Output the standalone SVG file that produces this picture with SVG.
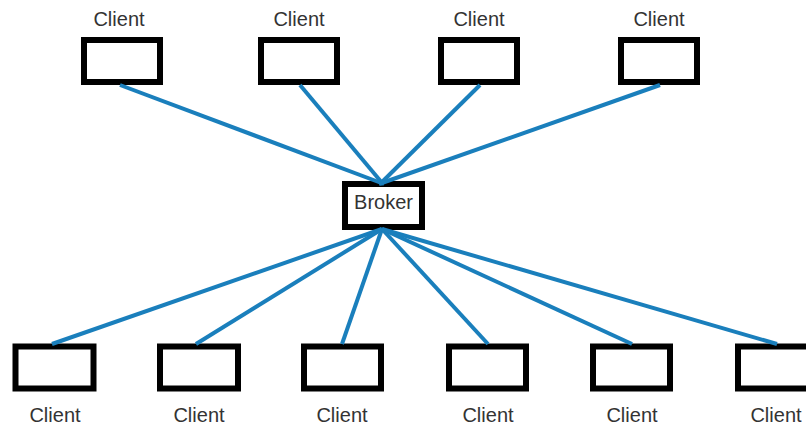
<svg xmlns="http://www.w3.org/2000/svg" width="806" height="425" viewBox="0 0 806 425">
<style>
.box{fill:#fff;stroke:#000;stroke-width:6}
.lbl{font-family:"Liberation Sans",Arial,sans-serif;font-size:20px;fill:#333;text-anchor:middle}
.c{stroke:#1a7fbc;stroke-width:4;fill:none}
</style>
<rect width="806" height="425" fill="#fff"/>
<g id="nodes">
<g id="top1"><rect class="box" x="84" y="40" width="76" height="42"/><text class="lbl" x="119" y="26">Client</text></g>
<g id="top2"><rect class="box" x="261" y="40" width="76" height="42"/><text class="lbl" x="299" y="26">Client</text></g>
<g id="top3"><rect class="box" x="441" y="40" width="76" height="42"/><text class="lbl" x="479" y="26">Client</text></g>
<g id="top4"><rect class="box" x="621" y="40" width="76" height="42"/><text class="lbl" x="659" y="26">Client</text></g>
<g id="broker"><rect class="box" x="345" y="184" width="77" height="43"/><text class="lbl" x="383.5" y="209">Broker</text></g>
<g id="bot1"><rect class="box" x="15.5" y="346.5" width="78" height="42"/><text class="lbl" x="55" y="422">Client</text></g>
<g id="bot2"><rect class="box" x="160" y="346.5" width="78" height="42"/><text class="lbl" x="199" y="422">Client</text></g>
<g id="bot3"><rect class="box" x="304" y="346.5" width="77" height="42"/><text class="lbl" x="342" y="422">Client</text></g>
<g id="bot4"><rect class="box" x="449" y="346.5" width="77" height="42"/><text class="lbl" x="488" y="422">Client</text></g>
<g id="bot5"><rect class="box" x="593" y="346.5" width="77" height="42"/><text class="lbl" x="632" y="422">Client</text></g>
<g id="bot6"><rect class="box" x="738" y="346.5" width="77" height="42"/><text class="lbl" x="776" y="422">Client</text></g>
</g>
<g id="connectors">
<line class="c" x1="120" y1="85" x2="384" y2="184"/>
<line class="c" x1="300" y1="85" x2="383" y2="184"/>
<line class="c" x1="480" y1="85" x2="380" y2="184"/>
<line class="c" x1="660" y1="85" x2="379" y2="184"/>
<line class="c" x1="382" y1="229" x2="52" y2="344"/>
<line class="c" x1="382" y1="229" x2="196" y2="344"/>
<line class="c" x1="382" y1="229" x2="342" y2="344"/>
<line class="c" x1="382" y1="229" x2="488" y2="344"/>
<line class="c" x1="382" y1="229" x2="632" y2="344"/>
<line class="c" x1="382" y1="229" x2="777" y2="344"/>
</g>
</svg>
